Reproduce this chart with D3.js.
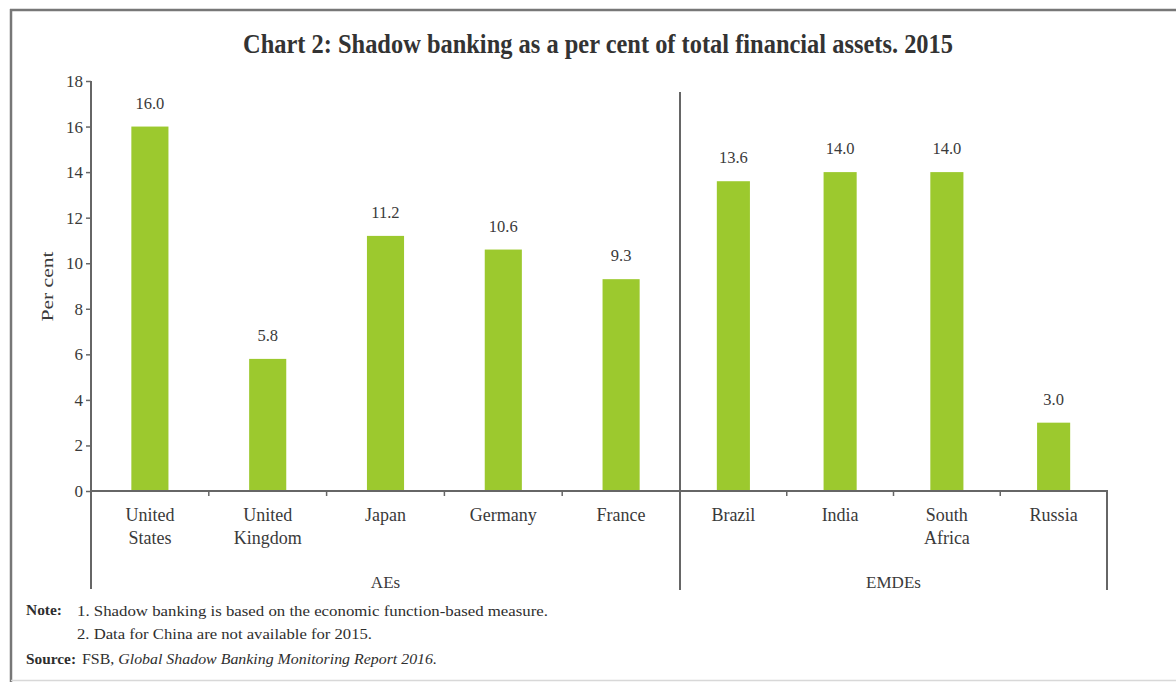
<!DOCTYPE html>
<html>
<head>
<meta charset="utf-8">
<script src="https://cdn.jsdelivr.net/npm/d3@7"></script>
<style>
  html, body { margin: 0; padding: 0; background: #fff; }
  svg { display: block; }
  text { font-family: "Liberation Serif", "DejaVu Serif", serif; fill: #3a3a3a; }
</style>
</head>
<body>
<script>
// Shadow banking as a share of total financial assets, 2015
const aeCountries = ["United States", "United Kingdom", "Japan", "Germany", "France"];
const aeValues = [16.0, 5.8, 11.2, 10.6, 9.3];
const emdeCountries = ["Brazil", "India", "South Africa", "Russia"];
const emdeValues = [13.6, 14.0, 14.0, 3.0];
const groupLabels = ["AEs", "EMDEs"];
const yTickValues = [0, 2, 4, 6, 8, 10, 12, 14, 16, 18];
const titleText = "Chart 2: Shadow banking as a per cent of total financial assets. 2015";
const noteLines = [
  "1. Shadow banking is based on the economic function-based measure.",
  "2. Data for China are not available for 2015."
];
const sourcePlain = "FSB, ";
const sourceItalic = "Global Shadow Banking Monitoring Report 2016.";

const W = 1176, H = 682;
const barColor = "#9cc92e";
const axisColor = "#666";

const svg = d3.select("body").append("svg")
  .attr("width", W).attr("height", H);

// outer frame
svg.append("line").attr("x1", 11).attr("x2", 11).attr("y1", 9).attr("y2", H)
  .attr("stroke", "#777").attr("stroke-width", 2.5);
svg.append("line").attr("x1", 10).attr("x2", W).attr("y1", 10).attr("y2", 10)
  .attr("stroke", "#777").attr("stroke-width", 2.5);
svg.append("line").attr("x1", 11).attr("x2", W).attr("y1", 680.5).attr("y2", 680.5)
  .attr("stroke", "#d8d8d8").attr("stroke-width", 1.5);

// title
svg.append("text")
  .attr("x", 598).attr("y", 53)
  .attr("text-anchor", "middle")
  .attr("font-size", 27).attr("font-weight", "bold")
  .attr("textLength", 710).attr("lengthAdjust", "spacingAndGlyphs")
  .style("fill", "#333")
  .text(titleText);

// scales
const y = d3.scaleLinear().domain([0, 18]).range([491, 81]);
const xAE = d3.scaleBand().domain(aeCountries).range([91, 680])
  .paddingInner(0.685).paddingOuter(0.3425);
const xEM = d3.scaleBand().domain(emdeCountries).range([680, 1107])
  .paddingInner(0.69).paddingOuter(0.345);

const aeData = aeCountries.map((c, i) => ({ c, v: aeValues[i], x: xAE }));
const emData = emdeCountries.map((c, i) => ({ c, v: emdeValues[i], x: xEM }));
const allData = aeData.concat(emData);

// bars
svg.append("g").selectAll("rect").data(allData).join("rect")
  .attr("x", d => d.x(d.c))
  .attr("width", d => d.x.bandwidth())
  .attr("y", d => y(d.v))
  .attr("height", d => y(0) - y(d.v))
  .attr("fill", barColor);

// value labels
svg.append("g").selectAll("text").data(allData).join("text")
  .attr("x", d => d.x(d.c) + d.x.bandwidth() / 2)
  .attr("y", d => y(d.v) - 18)
  .attr("text-anchor", "middle")
  .attr("font-size", 16.5)
  .text(d => d.v.toFixed(1));

// y axis
const yAxis = svg.append("g").attr("transform", "translate(91,0)")
  .call(d3.axisLeft(y).tickValues(yTickValues).tickSize(5).tickSizeOuter(0).tickPadding(3));
yAxis.select(".domain").remove();
yAxis.selectAll(".tick line").attr("stroke", axisColor).attr("stroke-width", 1.5);
yAxis.selectAll(".tick text")
  .attr("font-family", "Liberation Serif, serif")
  .attr("font-size", 17).style("fill", "#3a3a3a");

svg.append("line").attr("x1", 91).attr("x2", 91).attr("y1", y(18)).attr("y2", 589)
  .attr("stroke", axisColor).attr("stroke-width", 2);

// y axis title
svg.append("text")
  .attr("transform", `translate(53,${y(9) + 0.5}) rotate(-90)`)
  .attr("text-anchor", "middle")
  .attr("font-size", 17)
  .attr("textLength", 70).attr("lengthAdjust", "spacingAndGlyphs")
  .text("Per cent");

// x axis baseline
svg.append("line").attr("x1", 91).attr("x2", 1108).attr("y1", y(0)).attr("y2", y(0))
  .attr("stroke", axisColor).attr("stroke-width", 2);

// ticks between categories
function boundaries(scale) {
  const dom = scale.domain();
  const gap = scale.step() - scale.bandwidth();
  return dom.slice(0, -1).map(c => scale(c) + scale.bandwidth() + gap / 2);
}
const tickXs = boundaries(xAE).concat(boundaries(xEM));
svg.append("g").selectAll("line").data(tickXs).join("line")
  .attr("x1", d => d).attr("x2", d => d)
  .attr("y1", y(0)).attr("y2", y(0) + 5)
  .attr("stroke", axisColor).attr("stroke-width", 1.5);

// group separator and right end
svg.append("line").attr("x1", 680).attr("x2", 680).attr("y1", 92).attr("y2", 590)
  .attr("stroke", axisColor).attr("stroke-width", 2);
svg.append("line").attr("x1", 1107).attr("x2", 1107).attr("y1", y(0)).attr("y2", 590)
  .attr("stroke", axisColor).attr("stroke-width", 2);

// category labels
const catLabels = svg.append("g").selectAll("text").data(allData).join("text")
  .attr("text-anchor", "middle")
  .attr("font-size", 18);
catLabels.each(function (d) {
  const cx = d.x(d.c) + d.x.bandwidth() / 2;
  const words = d.c.split(" ");
  d3.select(this).selectAll("tspan").data(words).join("tspan")
    .attr("x", cx)
    .attr("y", (w, i) => 521 + i * 23)
    .text(w => w);
});

// group labels
const groupCenters = [(91 + 680) / 2, (680 + 1107) / 2];
svg.append("g").selectAll("text").data(groupLabels).join("text")
  .attr("x", (d, i) => groupCenters[i])
  .attr("y", 588)
  .attr("text-anchor", "middle")
  .attr("font-size", 17)
  .text(d => d);

// notes and source
const noteSize = 14.5;
const noteWidths = [471, 295];
svg.append("text").attr("x", 26).attr("y", 615)
  .attr("font-size", noteSize).attr("font-weight", "bold")
  .attr("textLength", 36).attr("lengthAdjust", "spacingAndGlyphs")
  .style("fill", "#2e2e2e").text("Note:");
noteLines.forEach((t, i) => {
  svg.append("text").attr("x", 77).attr("y", 616 + i * 23)
    .attr("font-size", noteSize)
    .attr("textLength", noteWidths[i]).attr("lengthAdjust", "spacingAndGlyphs")
    .style("fill", "#2e2e2e").text(t);
});
svg.append("text").attr("x", 26).attr("y", 664)
  .attr("font-size", noteSize).attr("font-weight", "bold")
  .attr("textLength", 50).attr("lengthAdjust", "spacingAndGlyphs")
  .style("fill", "#2e2e2e").text("Source:");
const src = svg.append("text").attr("x", 82).attr("y", 664)
  .attr("font-size", noteSize)
  .attr("textLength", 355).attr("lengthAdjust", "spacingAndGlyphs")
  .style("fill", "#2e2e2e");
src.append("tspan").text(sourcePlain);
src.append("tspan").attr("font-style", "italic").text(sourceItalic);
</script>
</body>
</html>
